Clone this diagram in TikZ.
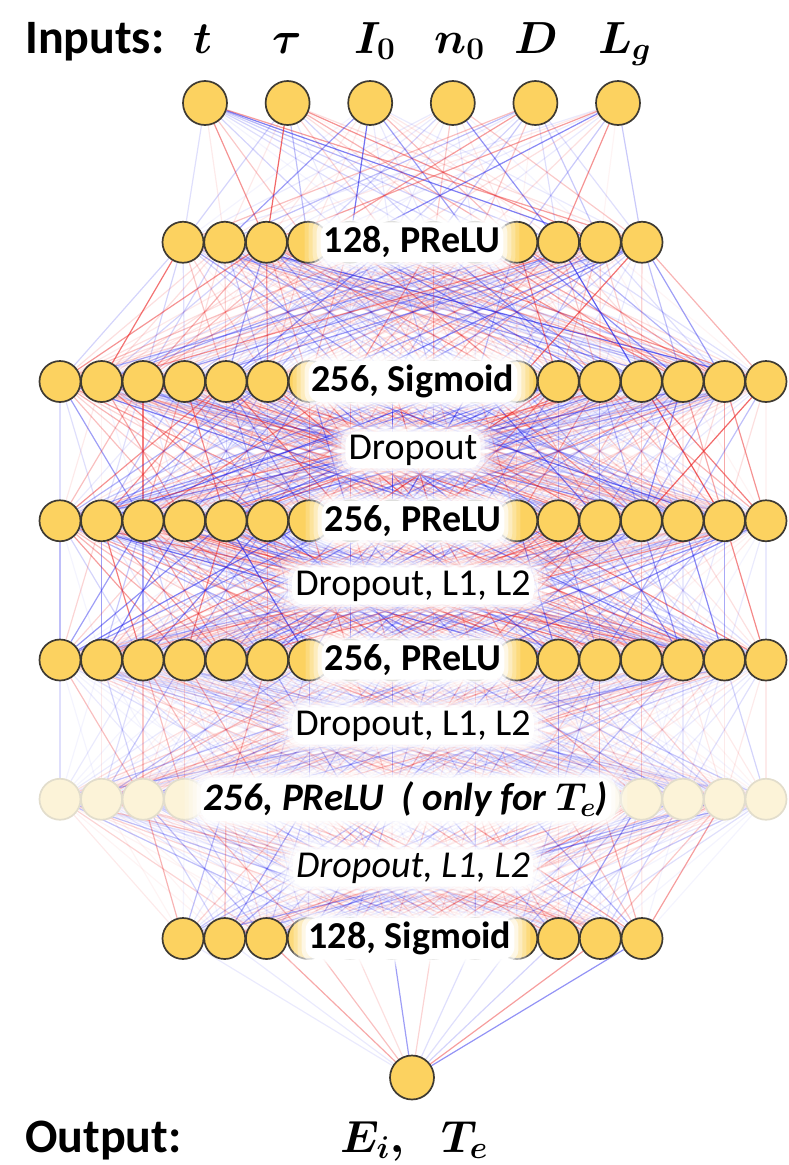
\documentclass[tikz,border=0pt]{standalone}
\usepackage{fix-cm}
\usepackage[no-math]{fontspec}
\setmainfont{Carlito}
\usepackage{bm}
\definecolor{nodefill}{RGB}{252,210,96}
\definecolor{nodeedge}{RGB}{62,58,50}
\definecolor{palefill}{RGB}{252,243,216}
\definecolor{paleedge}{RGB}{226,221,204}
\definecolor{wred}{RGB}{236,40,40}
\definecolor{wblue}{RGB}{40,40,236}
\pgfdeclarelayer{background}
\pgfdeclarelayer{glowlayer}
\pgfdeclarelayer{fore}
\pgfsetlayers{background,main,glowlayer,fore}
\newcommand\netlinks[5]{%
  \foreach \i in {1,...,#2}{\foreach \j in {1,...,#4}{%
    \pgfmathsetmacro\op{round(20*#5*(0.06+0.72*rnd*rnd))/20}%
    \pgfmathtruncatemacro\cc{rnd>0.5?1:0}%
    \ifnum\cc=1 \def\lc{wred}\else\def\lc{wblue}\fi
    \draw[link, draw=\lc, draw opacity=\op] (#1-\i) -- (#3-\j);
  }}}
\newcommand\glowbox[1]{%
  \foreach \d/\o in {16/0.18,12/0.25,8/0.35,4/0.6,0/1}{%
    \fill[white, opacity=\o, rounded corners=12pt]
      ([shift={(-\d pt,-0.6*\d pt)}]#1.south west) rectangle ([shift={(\d pt,0.6*\d pt)}]#1.north east);
  }}
\tikzset{
  neuron/.style={circle, draw=nodeedge, fill=nodefill, line width=1.7pt, minimum size=41pt, inner sep=0pt},
  paleneuron/.style={circle, draw=paleedge, fill=palefill, line width=1.7pt, minimum size=41pt, inner sep=0pt},
  link/.style={line width=1.2pt},
  layerlbl/.style={font=\fontsize{38}{40}\selectfont\bfseries, inner xsep=3pt, inner ysep=4pt},
  droplbl/.style={font=\fontsize{38}{40}\selectfont, inner xsep=3pt, inner ysep=3pt},
  headlbl/.style={font=\fontsize{48}{50}\selectfont\bfseries, anchor=base west, inner sep=0pt},
  mathlbl/.style={font=\fontsize{45}{48}\selectfont, anchor=base west, inner sep=0pt},
}
\begin{document}
\begin{tikzpicture}[x=1pt,y=1pt]
\useasboundingbox (0,0) rectangle (789,-1165);
\pgfmathsetseed{7}
% layers
\foreach \k in {1,...,6} \node[neuron, minimum size=44pt] (in-\k) at ({205+82.6*(\k-1)},-103) {};
\foreach \k in {1,...,12} \node[neuron] (a-\k) at ({183+41.73*(\k-1)},-242.25) {};
\foreach \k in {1,...,18} \node[neuron] (b-\k) at ({60+41.53*(\k-1)},-381.5) {};
\foreach \k in {1,...,18} \node[neuron] (c-\k) at ({60+41.53*(\k-1)},-520.75) {};
\foreach \k in {1,...,18} \node[neuron] (d-\k) at ({60+41.53*(\k-1)},-660) {};
\foreach \k in {1,...,18} \node[paleneuron] (e-\k) at ({60+41.53*(\k-1)},-799.25) {};
\foreach \k in {1,...,12} \node[neuron] (f-\k) at ({183+41.73*(\k-1)},-938.5) {};
\node[neuron, minimum size=44pt] (out-1) at (412,-1077.5) {};
% connections
\begin{pgfonlayer}{background}
\netlinks{in}{6}{a}{12}{1}
\netlinks{a}{12}{b}{18}{1}
\netlinks{b}{18}{c}{18}{1}
\netlinks{c}{18}{d}{18}{1}
\netlinks{d}{18}{e}{18}{0.55}
\netlinks{e}{18}{f}{12}{0.65}
\netlinks{f}{12}{out}{1}{1}
\end{pgfonlayer}
% labels
\begin{pgfonlayer}{fore}
\node[layerlbl] (l1) at (412,-242.25) {128, PReLU};
\node[layerlbl] (l2) at (413,-381.5) {256, Sigmoid};
\node[droplbl] (r1) at (413,-450) {Dropout};
\node[layerlbl] (l3) at (413,-520.75) {256, PReLU};
\node[droplbl] (r2) at (413,-586) {Dropout, L1, L2};
\node[layerlbl] (l4) at (413,-660) {256, PReLU};
\node[droplbl] (r3) at (413,-726) {Dropout, L1, L2};
\node[layerlbl, font=\fontsize{39}{41}\selectfont\bfseries\itshape] (l5) at (406,-799.25) {256, PReLU\ \ ( only for $\bm{T_e}$)};
\node[droplbl, font=\fontsize{38}{40}\selectfont\itshape] (r4) at (413,-868) {Dropout, L1, L2};
\node[layerlbl] (l6) at (410,-938.5) {128, Sigmoid};
\node[headlbl] (hin) at (25,-53) {Inputs:};
\node[mathlbl] (m1) at (193,-53) {$\bm{t}$};
\node[mathlbl] (m2) at (272,-53) {$\bm{\tau}$};
\node[mathlbl] (m3) at (354,-53) {$\bm{I_0}$};
\node[mathlbl] (m4) at (434,-53) {$\bm{n_0}$};
\node[mathlbl] (m5) at (514,-53) {$\bm{D}$};
\node[mathlbl] (m6) at (598,-53) {$\bm{L_g}$};
\node[headlbl] (hout) at (25,-1152) {Output:};
\node[mathlbl] (o1) at (340,-1152) {$\bm{E_i,}$};
\node[mathlbl] (o2) at (441,-1152) {$\bm{T_e}$};
\end{pgfonlayer}
\begin{pgfonlayer}{glowlayer}
\glowbox{l1}\glowbox{l2}\glowbox{r1}\glowbox{l3}\glowbox{r2}
\glowbox{l4}\glowbox{r3}\glowbox{l5}\glowbox{r4}\glowbox{l6}
\end{pgfonlayer}
\end{tikzpicture}
\end{document}
